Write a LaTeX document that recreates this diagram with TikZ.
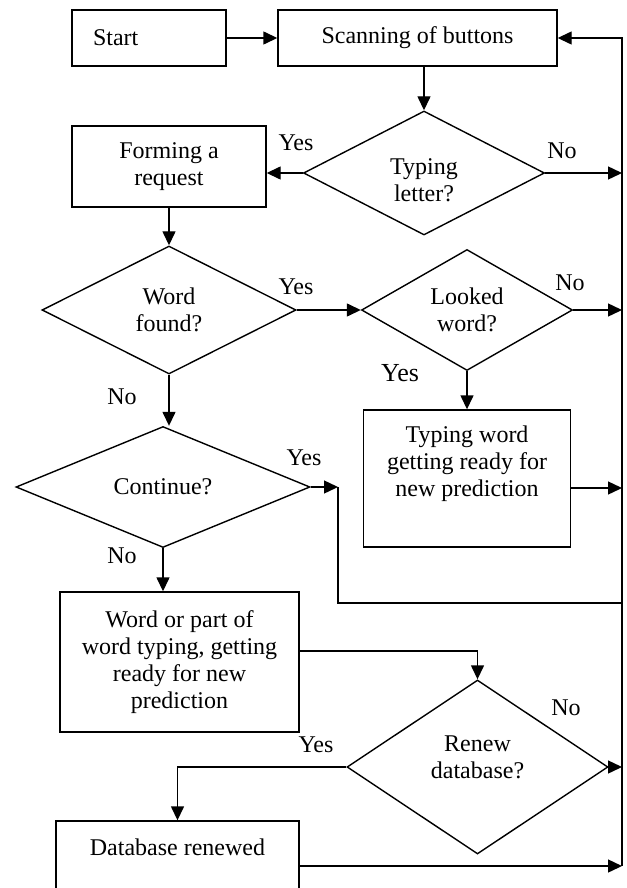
\documentclass[tikz,border=0pt]{standalone}
\usepackage{fontspec}
\setmainfont{Liberation Serif}
\usetikzlibrary{shapes.geometric,arrows.meta,positioning}

\begin{document}
\begin{tikzpicture}[x=0.5pt, y=-0.5pt, line width=0.7pt, >={Triangle[length=7pt,width=6.5pt]},
 box/.style={rectangle, draw, align=center, inner sep=0pt, font=\fontsize{12}{13.5}\selectfont},
 test/.style={diamond, draw, aspect=2, align=center, inner sep=0pt, font=\fontsize{12}{13.5}\selectfont},
 lab/.style={inner sep=0pt, font=\fontsize{12}{13.5}\selectfont}]
\useasboundingbox (0,0) rectangle (626,888);
\clip (0,0) rectangle (626,888);
% boxes and tests
\node[box, minimum width=77pt, minimum height=28pt, text width=56pt, align=left, inner xsep=10.5pt] (start) at (149,38) {Start};
\node[box, minimum width=139.5pt, minimum height=28pt] (scan) at (417.5,38) {Scanning of buttons};
\node[test, minimum width=120.5pt, minimum height=62pt] (typ) at (424,173) {\strut\\[-8pt]Typing\\letter?};
\node[box, minimum width=97pt, minimum height=40.5pt] (form) at (169,166.5) {Forming a\\request};
\node[test, minimum width=127pt, minimum height=64pt] (word) at (169,310) {Word\\found?};
\node[test, minimum width=105.5pt, minimum height=60.5pt] (look) at (467,310) {Looked\\word?};
\node[box, minimum width=103.5pt, minimum height=68.5pt] (tw) at (467,478.5) {Typing word\\getting ready for\\new prediction\\ \strut};
\node[test, minimum width=147pt, minimum height=60.5pt] (cont) at (163,487) {Continue?};
\node[box, minimum width=119.5pt, minimum height=70pt] (wp) at (179.5,662) {Word or part of\\word typing, getting\\ready for new\\prediction};
\node[test, minimum width=130.5pt, minimum height=87pt] (ren) at (477.5,767) {Renew\\database?\\[-8pt]\strut};
\node[box, minimum width=121.5pt, text height=14pt, text depth=25pt, inner ysep=3pt] (db) at (177.5,866) {Database renewed};
% points on the return line
\coordinate (r1) at (622,173);
\coordinate (r2) at (622,310);
\coordinate (r3) at (622,488);
\coordinate (rb) at (622,603);
\coordinate (r4) at (622,767);
\coordinate (r5) at (622,866);
\coordinate (cy) at (338,487);
% yes / no
\node[lab] (y1) at (296,143) {Yes};
\node[lab] (n1) at (562,151) {No};
\node[lab] (y2) at (296,287) {Yes};
\node[lab] (n2) at (570,283) {No};
\node[lab, font=\fontsize{13}{15}\selectfont] (y3) at (400,373) {Yes};
\node[lab] (n3) at (122,397) {No};
\node[lab] (y4) at (304,458) {Yes};
\node[lab] (n4) at (122,556) {No};
\node[lab] (n5) at (566,708) {No};
\node[lab] (y5) at (316,745) {Yes};
% connectors
\draw[->] (start) -- (scan);
\draw[->] (typ.north |- scan.south) -- (typ.north);
\draw[->] (typ.west) -- (typ.west -| form.east);
\draw[->] (typ) -- (r1);
\draw[->] (form) -- (word);
\draw[->] (word) -- (look);
\draw[->] (look) -- (r2);
\draw[->] (look) -- (tw);
\draw[->] (r3 -| tw.east) -- (r3);
\draw[->] (word.south) -- (word.south |- cont.north);
\draw[->] (cont) -- (cy);
\draw (cy) |- (rb);
\draw[->] (cont.south) -- (cont.south |- wp.north);
\draw[->] ([yshift=5.5pt]wp.east) -| (ren);
\draw[->] (ren) -| (db);
\draw[->] (ren) -- (r4);
\draw[->] (db) -- (r5);
\draw[->] (r5) |- (scan);
\end{tikzpicture}
\end{document}
